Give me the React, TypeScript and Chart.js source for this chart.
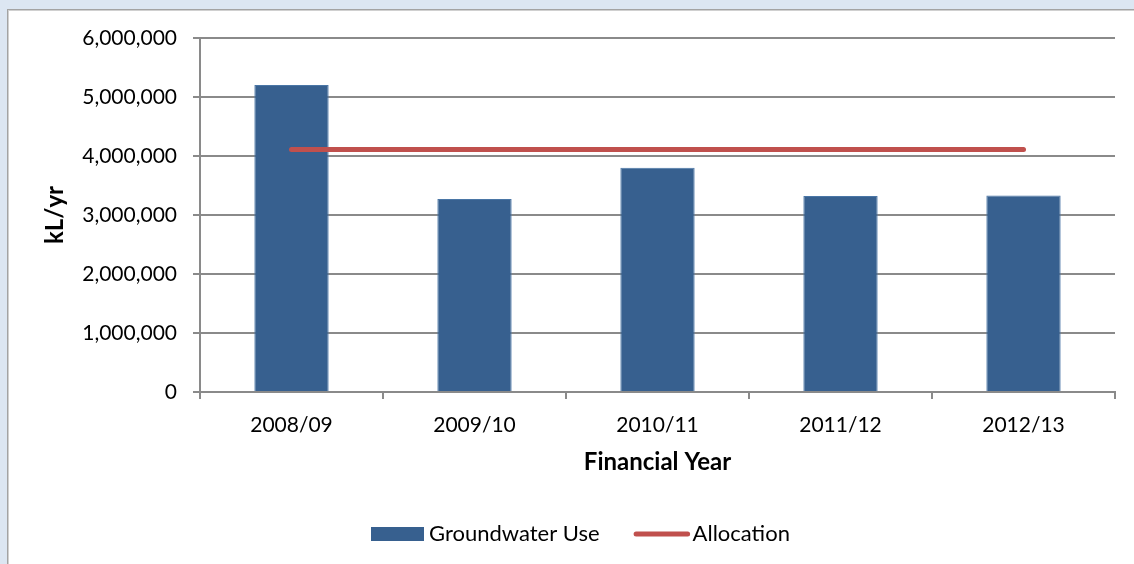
import React, { useEffect, useRef } from "react";
import { Chart, registerables } from "chart.js";

Chart.register(...registerables);

const categories = ["2008/09", "2009/10", "2010/11", "2011/12", "2012/13"];
const groundwaterUse = [5205000, 3270000, 3800000, 3320000, 3330000];
const allocation = [4110000, 4110000, 4110000, 4110000, 4110000];
const yMin = 0;
const yMax = 6000000;
const yStep = 1000000;
const seriesNames = ["Groundwater Use", "Allocation"];
const xTitle = "Financial Year";
const yTitle = "kL/yr";

const FONT = "Lato, 'Open Sans', sans-serif";
const GRID = "#8a8a8a";

const legendPlugin = {
  id: "customLegend",
  afterDraw(chart: any) {
    const ctx = chart.ctx;
    ctx.save();
    ctx.font = `22px ${FONT}`;
    ctx.textBaseline = "middle";
    ctx.textAlign = "left";
    let x = 371;
    const cy = 534;
    chart.data.datasets.forEach((ds: any) => {
      if (ds.type === "line") {
        ctx.strokeStyle = ds.borderColor;
        ctx.lineWidth = ds.borderWidth;
        ctx.lineCap = "round";
        ctx.beginPath();
        ctx.moveTo(x + 2.5, cy);
        ctx.lineTo(x + 54, cy);
        ctx.stroke();
        x += 59;
      } else {
        ctx.fillStyle = ds.backgroundColor;
        ctx.fillRect(x, cy - 7, 53, 14);
        x += 58;
      }
      ctx.fillStyle = "#000";
      ctx.fillText(ds.label, x, cy);
      x += ctx.measureText(ds.label).width + 34;
    });
    ctx.restore();
  },
};

export default function App() {
  const ref = useRef<HTMLCanvasElement | null>(null);

  useEffect(() => {
    if (!ref.current) return;
    const chart = new Chart(ref.current, {
      type: "bar",
      data: {
        labels: categories,
        datasets: [
          {
            type: "bar",
            label: seriesNames[0],
            data: groundwaterUse,
            backgroundColor: "#37608f",
            borderColor: "#4a76a6",
            borderWidth: 1,
            barPercentage: 0.406,
            categoryPercentage: 1,
            order: 2,
          } as any,
          {
            type: "line",
            label: seriesNames[1],
            data: allocation,
            borderColor: "#c0504d",
            backgroundColor: "#c0504d",
            borderWidth: 5,
            borderCapStyle: "round",
            pointRadius: 0,
            fill: false,
            tension: 0,
            order: 1,
          } as any,
        ],
      },
      options: {
        responsive: false,
        animation: false,
        layout: { padding: { left: 0, top: 38, right: 19, bottom: 72 } },
        plugins: {
          legend: { display: false },
          tooltip: { enabled: false },
        },
        scales: {
          x: {
            ticks: { font: { family: FONT, size: 21 }, color: "#000", padding: 14, maxRotation: 0 },
            grid: { offset: true, drawOnChartArea: false, drawTicks: true, tickLength: 7, color: GRID, lineWidth: 2 },
            border: { color: GRID, width: 2 },
            title: {
              display: true,
              text: xTitle,
              font: { family: FONT, size: 24, weight: "bold" },
              color: "#000",
              padding: { top: 0, bottom: 15 },
            },
            afterFit: (s: any) => {
              s.height = 100;
            },
          },
          y: {
            min: yMin,
            max: yMax,
            ticks: {
              stepSize: yStep,
              font: { family: FONT, size: 21 },
              color: "#000",
              padding: 16,
              callback: (v: any) => Number(v).toLocaleString("en-US"),
            },
            grid: { color: GRID, lineWidth: 2, tickLength: 7, drawTicks: true },
            border: { color: GRID, width: 2 },
            title: {
              display: true,
              text: yTitle,
              font: { family: FONT, size: 24, weight: "bold" },
              color: "#000",
              padding: { top: 41, bottom: 0 },
            },
            afterFit: (s: any) => {
              s.width = 200;
            },
          },
        },
      },
      plugins: [legendPlugin],
    });
    return () => chart.destroy();
  }, []);

  return (
    <div style={{ position: "fixed", left: 0, top: 0, width: 1134, height: 564, background: "#dce6f2", overflow: "hidden" }}>
      <div
        style={{
          position: "absolute",
          left: 7,
          top: 9,
          width: 1200,
          height: 700,
          background: "#ffffff",
          borderLeft: "1px solid #a3a3a3",
          borderTop: "1px solid #a3a3a3",
          boxShadow: "inset 1px 1px 0 #d0d0d0",
        }}
      />
      <canvas ref={ref} width={1134} height={564} style={{ position: "absolute", left: 0, top: 0, width: 1134, height: 564 }} />
    </div>
  );
}
